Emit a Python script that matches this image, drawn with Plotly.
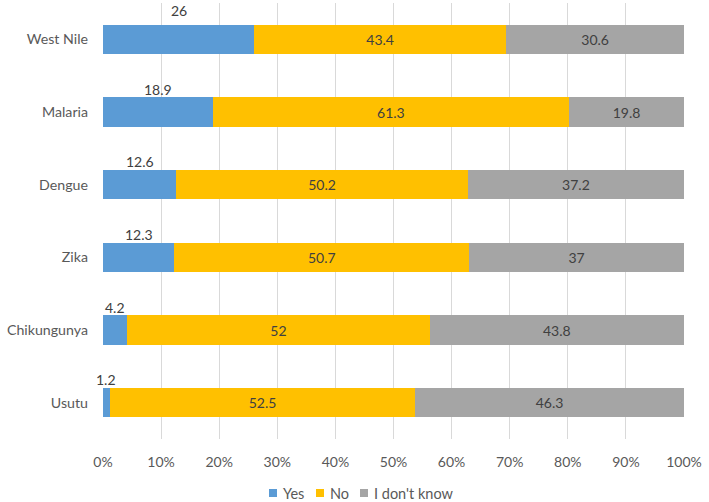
import plotly.graph_objects as go

categories = ["West Nile", "Malaria", "Dengue", "Zika", "Chikungunya", "Usutu"]
yes_vals = [26, 18.9, 12.6, 12.3, 4.2, 1.2]
no_vals = [43.4, 61.3, 50.2, 50.7, 52, 52.5]
dk_vals = [30.6, 19.8, 37.2, 37, 43.8, 46.3]
series_names = ["Yes", "No", "I don't know"]
series_colors = ["#5B9BD5", "#FFC000", "#A5A5A5"]
tick_vals = [0, 10, 20, 30, 40, 50, 60, 70, 80, 90, 100]
tick_text = [f"{v}%" for v in tick_vals]

FONT = "Lato"
TXT = "#404040"
AX = "#595959"

W, H = 709, 502
ML, MR, MT, MB = 103, 25, 3, 63
PW, PH = W - ML - MR, H - MT - MB

fig = go.Figure()
for name, vals, col in zip(series_names, [yes_vals, no_vals, dk_vals], series_colors):
    kw = {}
    if name != "Yes":
        kw = dict(text=vals, texttemplate="%{x}", textposition="inside",
                  insidetextanchor="middle", constraintext="none",
                  textfont=dict(family=FONT, size=14, color=TXT))
    fig.add_trace(go.Bar(y=categories, x=vals, orientation="h", name=name,
                         marker=dict(color=col, line=dict(width=0)),
                         showlegend=False, **kw))

for c, v in zip(categories, yes_vals):
    fig.add_annotation(x=v / 2, y=c, text=f"{v:g}", showarrow=False,
                       yanchor="middle", yshift=29 if c == "West Nile" else 23,
                       font=dict(family=FONT, size=14, color=TXT))

# legend drawn as small squares + labels below the axis (pixel layout)
def px_x(p):
    return (p - ML) / PW

def px_y(p):
    return (H - MB - p) / PH

leg_cy = 493
marker_left = [269, 316, 360]
for name, col, xl in zip(series_names, series_colors, marker_left):
    fig.add_shape(type="rect", xref="paper", yref="paper",
                  x0=px_x(xl), x1=px_x(xl + 8), y0=px_y(leg_cy + 4), y1=px_y(leg_cy - 4),
                  fillcolor=col, line=dict(width=0))
    fig.add_annotation(xref="paper", yref="paper", x=px_x(xl + 12), y=px_y(leg_cy),
                       text=name, showarrow=False, xanchor="left", yanchor="middle",
                       font=dict(family=FONT, size=14.5, color=AX))

fig.update_layout(
    width=W, height=H,
    barmode="stack", bargap=0.6,
    margin=dict(l=ML, r=MR, t=MT, b=MB),
    plot_bgcolor="white", paper_bgcolor="white",
    font=dict(family=FONT, size=14, color=AX),
    xaxis=dict(range=[0, 100], tickvals=tick_vals, ticktext=tick_text,
               showgrid=True, gridcolor="#D9D9D9", gridwidth=1,
               zeroline=False, showline=False, ticks="", ticklabelstandoff=13,
               tickfont=dict(family=FONT, size=14, color=AX)),
    yaxis=dict(categoryorder="array", categoryarray=categories,
               autorange="reversed", showgrid=False, zeroline=False,
               showline=False, ticks="", ticklabelstandoff=14,
               tickfont=dict(family=FONT, size=14.2, color=AX)),
    showlegend=False,
)

fig.write_html("out.html")
